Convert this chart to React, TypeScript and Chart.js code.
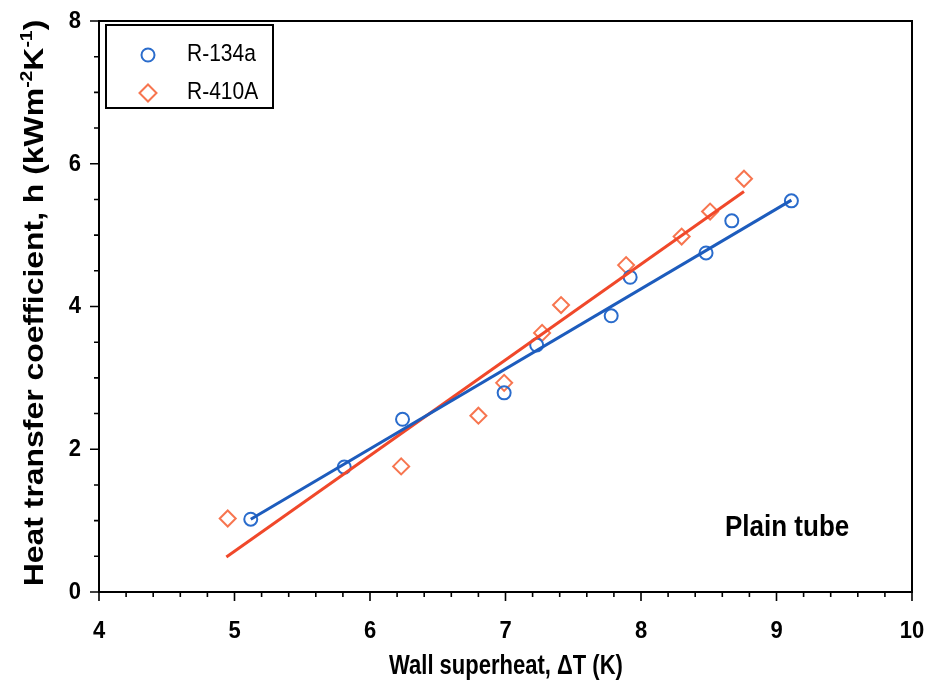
import React, { useEffect, useRef } from "react";
import { Chart, registerables } from "chart.js";

Chart.register(...registerables);

// ---- data ----
const seriesNames = ["R-134a", "R-410A"];
const r134aX = [5.12, 5.81, 6.24, 6.99, 7.23, 7.78, 7.92, 8.48, 8.67, 9.11];
const r134aY = [1.02, 1.75, 2.42, 2.79, 3.46, 3.87, 4.41, 4.75, 5.2, 5.48];
const r410aX = [4.95, 6.23, 6.8, 6.99, 7.27, 7.41, 7.89, 8.3, 8.51, 8.76];
const r410aY = [1.03, 1.76, 2.47, 2.93, 3.63, 4.02, 4.58, 4.98, 5.33, 5.79];
const r134aFitX = [5.12, 9.11];
const r134aFitY = [1.02, 5.49];
const r410aFitX = [4.94, 8.76];
const r410aFitY = [0.49, 5.61];
const xMajorTicks = [4, 5, 6, 7, 8, 9, 10];
const yMajorTicks = [0, 2, 4, 6, 8];
const xMinorStep = 0.2;
const yMinorStep = 0.5;
const xTitle = "Wall superheat, \u0394T (K)";
const yTitleParts = [
  { t: "Heat transfer coefficient, h (kWm", sup: false },
  { t: "-2", sup: true },
  { t: "K", sup: false },
  { t: "-1", sup: true },
  { t: ")", sup: false },
];
const annotationText = "Plain tube";

const BLUE_LINE = "#1d5cbd";
const BLUE_MARK = "#2a6ccc";
const ORANGE_LINE = "#f0482a";
const ORANGE_MARK = "#f7754f";

const FONT = "'Liberation Sans', Arial, sans-serif";

function pts(xs: number[], ys: number[]) {
  return xs.map((x, i) => ({ x, y: ys[i] }));
}

function drawText(
  ctx: CanvasRenderingContext2D,
  text: string,
  x: number,
  y: number,
  font: string,
  sx: number,
  sy: number,
  align: CanvasTextAlign,
  baseline: CanvasTextBaseline
) {
  ctx.save();
  ctx.translate(x, y);
  ctx.scale(sx, sy);
  ctx.font = font;
  ctx.textAlign = align;
  ctx.textBaseline = baseline;
  ctx.fillStyle = "#000";
  ctx.fillText(text, 0, 0);
  ctx.restore();
}

const decorPlugin = {
  id: "decor",
  afterDatasetsDraw(chart: any) {
    const ctx: CanvasRenderingContext2D = chart.ctx;
    const xs = chart.scales.x;
    const ys = chart.scales.y;
    const area = chart.chartArea;
    ctx.save();
    // frame
    ctx.strokeStyle = "#000";
    ctx.lineWidth = 2;
    ctx.strokeRect(area.left, area.top, area.right - area.left, area.bottom - area.top);

    // ticks
    ctx.lineWidth = 1.6;
    ctx.beginPath();
    for (let v = xs.min; v <= xs.max + 1e-9; v += xMinorStep) {
      const px = xs.getPixelForValue(v);
      const major = xMajorTicks.some((m) => Math.abs(m - v) < 1e-6);
      ctx.moveTo(px, area.bottom);
      ctx.lineTo(px, area.bottom + (major ? 9 : 5));
    }
    for (let v = ys.min; v <= ys.max + 1e-9; v += yMinorStep) {
      const py = ys.getPixelForValue(v);
      const major = yMajorTicks.some((m) => Math.abs(m - v) < 1e-6);
      ctx.moveTo(area.left, py);
      ctx.lineTo(area.left - (major ? 9 : 5), py);
    }
    ctx.stroke();

    // tick labels
    const tickFont = `bold 22px ${FONT}`;
    xMajorTicks.forEach((v) => {
      drawText(ctx, String(v), xs.getPixelForValue(v), 631, tickFont, 1, 1.12, "center", "middle");
    });
    yMajorTicks.forEach((v) => {
      drawText(ctx, String(v), area.left - 18, ys.getPixelForValue(v), tickFont, 1, 1.12, "right", "middle");
    });

    // x title
    drawText(ctx, xTitle, 506, 666, `bold 22px ${FONT}`, 1, 1.25, "center", "middle");

    // y title (rotated, with superscripts)
    ctx.save();
    ctx.translate(33, 303);
    ctx.rotate(-Math.PI / 2);
    ctx.scale(1.14, 1);
    const mainFont = `bold 28px ${FONT}`;
    const supFont = `bold 17px ${FONT}`;
    let total = 0;
    yTitleParts.forEach((p) => {
      ctx.font = p.sup ? supFont : mainFont;
      total += ctx.measureText(p.t).width;
    });
    let cx = -total / 2;
    ctx.fillStyle = "#000";
    ctx.textBaseline = "alphabetic";
    ctx.textAlign = "left";
    yTitleParts.forEach((p) => {
      ctx.font = p.sup ? supFont : mainFont;
      ctx.fillText(p.t, cx, p.sup ? -1 : 10);
      cx += ctx.measureText(p.t).width;
    });
    ctx.restore();

    // annotation
    drawText(ctx, annotationText, 725, 528, `bold 26px ${FONT}`, 1, 1.1, "left", "middle");

    // legend
    const lx = 106, ly = 25, lw = 167, lh = 83;
    ctx.fillStyle = "#fff";
    ctx.fillRect(lx, ly, lw, lh);
    ctx.strokeStyle = "#000";
    ctx.lineWidth = 2;
    ctx.strokeRect(lx, ly, lw, lh);
    const legendRows = [
      { y: 55, style: "circle", color: BLUE_MARK, r: 6.5 },
      { y: 93, style: "rectRot", color: ORANGE_MARK, r: 8.5 },
    ];
    legendRows.forEach((row, i) => {
      ctx.save();
      ctx.strokeStyle = row.color;
      ctx.lineWidth = 2;
      ctx.beginPath();
      if (row.style === "circle") {
        ctx.arc(148, row.y, row.r, 0, Math.PI * 2);
      } else {
        ctx.moveTo(148 - row.r, row.y);
        ctx.lineTo(148, row.y - row.r);
        ctx.lineTo(148 + row.r, row.y);
        ctx.lineTo(148, row.y + row.r);
        ctx.closePath();
      }
      ctx.stroke();
      ctx.restore();
      drawText(ctx, seriesNames[i], 187, row.y, `21px ${FONT}`, 1, 1.12, "left", "middle");
    });
    ctx.restore();
  },
};

export default function App() {
  const ref = useRef<HTMLCanvasElement | null>(null);
  useEffect(() => {
    if (!ref.current) return;
    const chart = new Chart(ref.current, {
      type: "scatter",
      data: {
        datasets: [
          {
            label: seriesNames[0] + " fit",
            data: pts(r134aFitX, r134aFitY),
            showLine: true,
            borderColor: BLUE_LINE,
            borderWidth: 3,
            pointRadius: 0,
            order: 0,
          },
          {
            label: seriesNames[1] + " fit",
            data: pts(r410aFitX, r410aFitY),
            showLine: true,
            borderColor: ORANGE_LINE,
            borderWidth: 3,
            pointRadius: 0,
            order: 1,
          },
          {
            label: seriesNames[0],
            data: pts(r134aX, r134aY),
            pointStyle: "circle",
            pointRadius: 6.5,
            pointBorderWidth: 2,
            borderColor: BLUE_MARK,
            backgroundColor: "rgba(0,0,0,0)",
            order: 2,
          },
          {
            label: seriesNames[1],
            data: pts(r410aX, r410aY),
            pointStyle: "rectRot",
            pointRadius: 8,
            pointBorderWidth: 2,
            borderColor: ORANGE_MARK,
            backgroundColor: "rgba(0,0,0,0)",
            order: 3,
          },
        ],
      },
      options: {
        responsive: false,
        animation: false,
        layout: { padding: { left: 99, right: 15, top: 21, bottom: 97 } },
        plugins: { legend: { display: false }, tooltip: { enabled: false } },
        scales: {
          x: { type: "linear", min: 4, max: 10, display: false },
          y: { type: "linear", min: 0, max: 8, display: false },
        },
      },
      plugins: [decorPlugin],
    });
    return () => chart.destroy();
  }, []);
  return (
    <div style={{ position: "absolute", left: 0, top: 0, width: 927, height: 689, background: "#fff" }}>
      <canvas ref={ref} width={927} height={689} style={{ display: "block" }} />
    </div>
  );
}
